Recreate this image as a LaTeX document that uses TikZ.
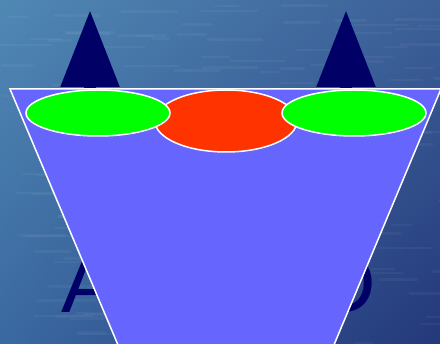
\documentclass[tikz,border=0pt]{standalone}
\usepackage{fontspec}
\setmainfont{Liberation Sans}
\definecolor{navy}{RGB}{0,0,102}
\definecolor{lavender}{RGB}{102,102,255}
\definecolor{brightgreen}{RGB}{0,255,0}
\definecolor{redorange}{RGB}{255,51,0}
\definecolor{seatl}{RGB}{80,136,180}
\definecolor{seatr}{RGB}{60,96,152}
\definecolor{seabl}{RGB}{58,104,160}
\definecolor{seabr}{RGB}{36,56,122}
\usetikzlibrary{positioning, arrows.meta, shapes.geometric, shadings}

\begin{document}
\begin{tikzpicture}[x=1pt, y=-1pt,
  letter/.style={text=navy, inner sep=0pt, anchor=base,
    font=\fontsize{84}{84}\selectfont},
  arw/.style={-{Triangle[length=77pt, width=56pt]}, line width=12pt, navy},
  oval/.style={ellipse, draw=white, line width=1.5pt, inner sep=0pt},
]
\useasboundingbox (0,0) rectangle (440,344);
\clip (0,0) rectangle (440,344);
% water background
\shade[upper left=seatl, upper right=seatr, lower left=seabl, lower right=seabr]
  (0,0) rectangle (440,344);
\pgfmathsetseed{7}
\foreach \i in {1,...,160}{
  \pgfmathsetmacro{\sx}{rnd*440}
  \pgfmathsetmacro{\sy}{rnd*344}
  \pgfmathsetmacro{\sl}{15+rnd*45}
  \draw[white, opacity=0.045, line width=2.5pt, line cap=round] (\sx,\sy) -- ++(\sl,0);
}
% letters and arrows
\node[letter] (lblA) at (90,313) {A};
\node[letter] (lblD) at (346,313) {D};
\coordinate (tipA) at (90,10);
\coordinate (tipD) at (346,10);
\draw[arw] (lblA) -- (tipA);
\draw[arw] (lblD) -- (tipD);
% funnel
\filldraw[fill=lavender, draw=white, line width=1.5pt]
  (10,89) -- (441,89) -- (326,364) -- (126,364) -- cycle;
% ovals
\node[oval, fill=redorange, minimum width=142pt, minimum height=62pt] (ovM) at (226,121) {};
\node[oval, fill=brightgreen, minimum width=144pt, minimum height=46pt] (ovL) at (98,113) {};
\node[oval, fill=brightgreen, minimum width=144pt, minimum height=46pt] (ovR) at (354,113) {};
\end{tikzpicture}
\end{document}
